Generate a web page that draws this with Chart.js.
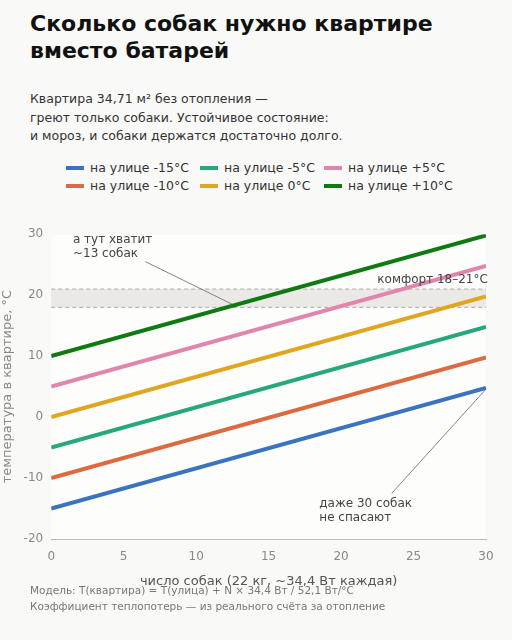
<!DOCTYPE html>
<html><head><meta charset="utf-8">
<script src="https://cdn.jsdelivr.net/npm/chart.js@4"></script>
<style>
body{margin:0;background:#f9f9f7;font-family:"DejaVu Sans",sans-serif;width:512px;height:640px;position:relative;overflow:hidden}
h1{position:absolute;left:30px;top:10px;margin:0;font-size:22px;line-height:27px;font-weight:bold;color:#111}
.sub{position:absolute;left:30px;top:90px;font-size:12.5px;line-height:18.5px;color:#333}
.leg{position:absolute;left:90px;top:160px;display:grid;grid-template-columns:134px 124px 140px;row-gap:3px;font-size:12.5px;color:#333}
.leg span{display:flex;align-items:center}
.leg i{display:inline-block;width:18px;height:4px;margin-right:6px;margin-left:-24px}
.foot{position:absolute;left:30px;top:582px;font-size:10.5px;line-height:16px;color:#777}
#wrap{position:absolute;left:0;top:219px;width:512px;height:370px}
</style></head><body>
<h1>Сколько собак нужно квартире<br>вместо батарей</h1>
<div class="sub">Квартира 34,71 м² без отопления —<br>греют только собаки. Устойчивое состояние:<br>и мороз, и собаки держатся достаточно долго.</div>
<div class="leg" id="leg"></div>
<div id="wrap"><canvas id="c"></canvas></div>
<div class="foot">Модель: T(квартира) = T(улица) + N × 34,4 Вт / 52,1 Вт/°C<br>Коэффициент теплопотерь — из реального счёта за отопление</div>
<script>
// Данные
const dogs = [0, 30];
const labels = ["на улице -15°C", "на улице -10°C", "на улице -5°C", "на улице 0°C", "на улице +5°C", "на улице +10°C"];
const colors = ["#3a74c0", "#dc6a3e", "#27a87a", "#e2a520", "#e185ac", "#0f7a12"];
const s_m15 = [-15, 4.8];
const s_m10 = [-10, 9.8];
const s_m5 = [-5, 14.8];
const s_0 = [0, 19.8];
const s_p5 = [5, 24.8];
const s_p10 = [10, 29.8];
const series = [s_m15, s_m10, s_m5, s_0, s_p5, s_p10];
const yTicks = [-20, -10, 0, 10, 20, 30];
const comfort = [18, 21];

// Легенда (порядок как на картинке: по строкам)
const legEl = document.getElementById('leg');
[0, 2, 4, 1, 3, 5].forEach(i => {
  const s = document.createElement('span');
  s.innerHTML = `<i style="background:${colors[i]}"></i>${labels[i]}`;
  legEl.appendChild(s);
});

const extras = {
  id: 'extras',
  beforeDatasetsDraw(chart) {
    const { ctx, chartArea: a, scales: { x, y } } = chart;
    ctx.save();
    ctx.fillStyle = '#fdfdfc';
    ctx.fillRect(a.left, a.top, a.right - a.left, a.bottom - a.top);
    const y1 = y.getPixelForValue(comfort[1]), y0 = y.getPixelForValue(comfort[0]);
    ctx.fillStyle = 'rgba(200,195,185,0.35)';
    ctx.fillRect(a.left, y1, a.right - a.left, y0 - y1);
    ctx.strokeStyle = '#aaa'; ctx.setLineDash([4, 3]); ctx.lineWidth = 1;
    [y0, y1].forEach(p => { ctx.beginPath(); ctx.moveTo(a.left, p); ctx.lineTo(a.right, p); ctx.stroke(); });
    ctx.restore();
  },
  afterDatasetsDraw(chart) {
    const { ctx, scales: { x, y } } = chart;
    ctx.save();
    ctx.font = '12px "DejaVu Sans"';
    ctx.fillStyle = '#444';
    ctx.textBaseline = 'alphabetic';
    ctx.fillText('комфорт 18–21°C', x.getPixelForValue(22.5), y.getPixelForValue(22));
    ctx.fillText('а тут хватит', x.getPixelForValue(1.5), y.getPixelForValue(28.5));
    ctx.fillText('~13 собак', x.getPixelForValue(1.5), y.getPixelForValue(26.2));
    ctx.fillText('даже 30 собак', x.getPixelForValue(18.5), y.getPixelForValue(-14.8));
    ctx.fillText('не спасают', x.getPixelForValue(18.5), y.getPixelForValue(-17.1));
    ctx.strokeStyle = '#666'; ctx.lineWidth = 0.8;
    ctx.beginPath();
    ctx.moveTo(x.getPixelForValue(6.5), y.getPixelForValue(25.5));
    ctx.lineTo(x.getPixelForValue(12.5), y.getPixelForValue(18.5));
    ctx.moveTo(x.getPixelForValue(23.5), y.getPixelForValue(-12.5));
    ctx.lineTo(x.getPixelForValue(30), y.getPixelForValue(4.6));
    ctx.stroke();
    ctx.restore();
  }
};

new Chart(document.getElementById('c'), {
  type: 'line',
  data: {
    datasets: series.map((s, i) => ({
      label: labels[i],
      data: s.map((v, j) => ({ x: dogs[j], y: v })),
      borderColor: colors[i],
      borderWidth: 4,
      pointRadius: 0,
      fill: false
    }))
  },
  options: {
    responsive: true, maintainAspectRatio: false, animation: false,
    layout: { padding: { left: 0, right: 26, top: 8, bottom: 0 } },
    plugins: { legend: { display: false }, tooltip: { enabled: false } },
    scales: {
      x: {
        type: 'linear', min: 0, max: 30,
        ticks: { stepSize: 5, color: '#888', font: { size: 12, family: 'DejaVu Sans' } },
        grid: { display: false },
        border: { color: '#bbb' },
        title: { display: true, text: 'число собак (22 кг, ~34,4 Вт каждая)', color: '#555', font: { size: 13, family: 'DejaVu Sans' }, padding: { top: 6, bottom: 0 } }
      },
      y: {
        min: -20, max: 30,
        afterBuildTicks: ax => { ax.ticks = yTicks.map(v => ({ value: v })); },
        ticks: { color: '#888', padding: 8, font: { size: 12, family: 'DejaVu Sans' } },
        grid: { color: '#e6e6e6', drawTicks: false },
        border: { display: false },
        title: { display: true, text: 'температура в квартире, °C', color: '#888', font: { size: 13, family: 'DejaVu Sans' }, padding: 0 }
      }
    }
  },
  plugins: [extras]
});
</script>
</body></html>
